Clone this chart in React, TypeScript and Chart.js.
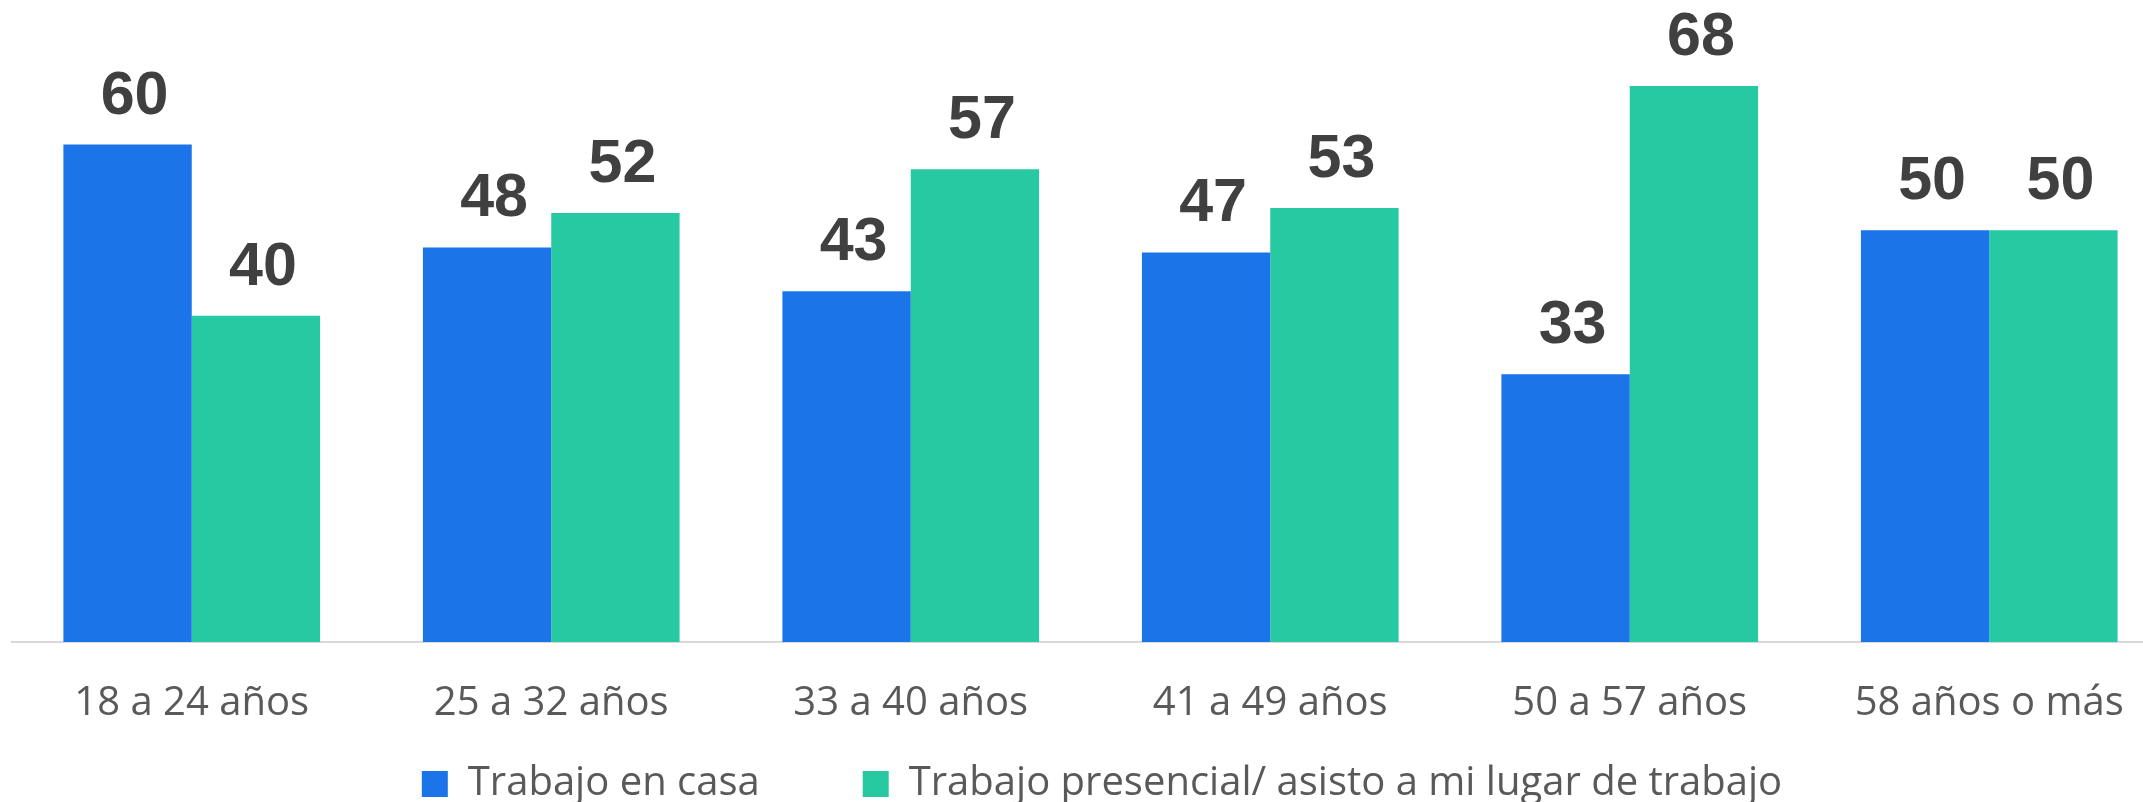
import React, { useEffect, useRef } from "react";
import { Chart, registerables } from "chart.js";

Chart.register(...registerables);

const categories = ["18 a 24 años", "25 a 32 años", "33 a 40 años", "41 a 49 años", "50 a 57 años", "58 años o más"];
const seriesNames = ["Trabajo en casa", "Trabajo presencial/ asisto a mi lugar de trabajo"];
const casa = [60.4, 47.9, 42.6, 47.3, 32.5, 50.0];
const presencial = [39.6, 52.1, 57.4, 52.7, 67.5, 50.0];
const colors = ["#1B74E8", "#27C9A3"];

const CANVAS_W = 2169;
const CANVAS_H = 814;
const LEGEND_FONT = 40;
const LEGEND_PAD = 103;

const valueLabels = {
  id: "valueLabels",
  afterDatasetsDraw(chart: any) {
    const ctx = chart.ctx;
    ctx.save();
    ctx.font = "bold 61px 'Liberation Sans', Arial, sans-serif";
    ctx.fillStyle = "#404040";
    ctx.textAlign = "center";
    ctx.textBaseline = "alphabetic";
    chart.data.datasets.forEach((ds: any, di: number) => {
      const meta = chart.getDatasetMeta(di);
      meta.data.forEach((bar: any, i: number) => {
        const v = Math.round(ds.data[i]);
        ctx.fillText(String(v), bar.x + 7, bar.y - 31);
      });
    });
    ctx.restore();
  },
};

// shift the legend a little to the right and let the x labels extend below the slim axis box
const layoutTweak = {
  id: "layoutTweak",
  afterLayout(chart: any) {
    if (chart.legend) {
      chart.legend.left += 11.5;
      chart.legend.right += 11.5;
    }
    const x = chart.scales.x;
    if (x) {
      x.bottom = x.top + 110;
    }
  },
};

export default function App() {
  const ref = useRef<HTMLCanvasElement | null>(null);
  useEffect(() => {
    if (!ref.current) return;
    const chart = new Chart(ref.current, {
      type: "bar",
      data: {
        labels: categories,
        datasets: [
          { label: seriesNames[0], data: casa, backgroundColor: colors[0], borderWidth: 0 },
          { label: seriesNames[1], data: presencial, backgroundColor: colors[1], borderWidth: 0 },
        ],
      },
      options: {
        responsive: false,
        animation: false,
        devicePixelRatio: 1,
        layout: { padding: { left: 12, right: 0, top: 24.3, bottom: 0 } },
        datasets: { bar: { categoryPercentage: 0.714, barPercentage: 1 } },
        scales: {
          x: {
            grid: { display: false, drawTicks: false },
            border: { display: true, color: "#D9D9D9", width: 2 },
            ticks: {
              color: "#595959",
              padding: 38,
              font: { family: "'Open Sans', sans-serif", size: 40 },
              maxRotation: 0,
              autoSkip: false,
            },
            afterFit: (s: any) => {
              s.height = CANVAS_H - (LEGEND_FONT + LEGEND_PAD + 10) - 642;
            },
          },
          y: { display: false, min: 0, max: 75 },
        },
        plugins: {
          legend: {
            position: "bottom",
            labels: {
              boxWidth: 26,
              boxHeight: 26,
              padding: LEGEND_PAD,
              color: "#595959",
              font: { family: "'Open Sans', sans-serif", size: LEGEND_FONT },
            },
          },
          tooltip: { enabled: false },
        },
      } as any,
      plugins: [valueLabels, layoutTweak],
    });
    return () => chart.destroy();
  }, []);
  return (
    <div style={{ position: "fixed", left: 0, top: 0, width: 2143, height: 802, overflow: "hidden", background: "#fff" }}>
      <canvas ref={ref} width={CANVAS_W} height={CANVAS_H} style={{ width: CANVAS_W, height: CANVAS_H, display: "block" }} />
    </div>
  );
}
